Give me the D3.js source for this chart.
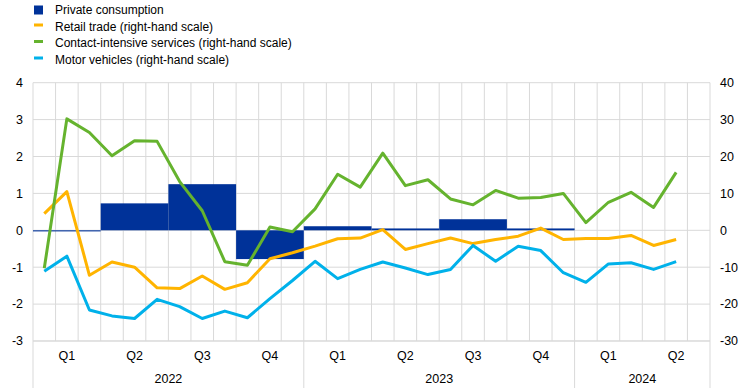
<!DOCTYPE html>
<html lang="en">
<head>
<meta charset="UTF-8">
<title>Consumption chart</title>
<script src="https://cdnjs.cloudflare.com/ajax/libs/d3/7.8.5/d3.min.js"></script>
<style>
	body { margin: 0; background: #fff; }
	text { font-family: Arial, "Liberation Sans", sans-serif; fill: #000; }
</style>
</head>
<body>
<svg id="chart" width="742" height="388"></svg>
<script>
// Jan 2022 .. Jun 2024, one slot per month
var months = d3.timeMonth.range(new Date(2022, 0, 1), new Date(2024, 6, 1));
var quarterLabels = ["Q1", "Q2", "Q3", "Q4", "Q1", "Q2", "Q3", "Q4", "Q1", "Q2"];
var years = ["2022", "2023", "2024"];
var yearQuarters = [4, 4, 2];

// private consumption, quarter-on-quarter % (left-hand scale)
var privateConsumption = [-0.03, 0.73, 1.25, -0.78, 0.11, 0.05, 0.3, 0.05];

// right-hand scale, monthly, Jan 2022 .. May 2024
var retailTrade = [4.5, 10.5, -12.2, -8.6, -10.0, -15.6, -15.8, -12.4, -16.0, -14.2,
	-7.7, -6.1, -4.3, -2.3, -2.1, 0.2, -5.2, -3.6, -2.1, -3.6,
	-2.5, -1.6, 0.6, -2.5, -2.2, -2.2, -1.4, -4.1, -2.5];
var contactServices = [-10.3, 30.2, 26.5, 20.2, 24.3, 24.1, 13.2, 5.3, -8.5, -9.5,
	0.9, -0.4, 5.8, 15.2, 11.7, 20.9, 12.1, 13.7, 8.5, 6.9,
	10.8, 8.7, 8.9, 10.0, 2.1, 7.6, 10.3, 6.2, 15.7];
var motorVehicles = [-11.1, -7.0, -21.6, -23.2, -23.9, -18.7, -20.7, -23.9, -21.9, -23.7,
	-18.5, -13.6, -8.4, -13.1, -10.6, -8.6, -10.2, -12.0, -10.6, -4.1,
	-8.4, -4.3, -5.5, -11.5, -14.1, -9.1, -8.8, -10.6, -8.5];

var leftTicks = [-3, -2, -1, 0, 1, 2, 3, 4];
var rightTicks = [-30, -20, -10, 0, 10, 20, 30, 40];

var series = [
	{ name: "Retail trade (right-hand scale)", values: retailTrade, color: "#ffb400" },
	{ name: "Contact-intensive services (right-hand scale)", values: contactServices, color: "#65b32e" },
	{ name: "Motor vehicles (right-hand scale)", values: motorVehicles, color: "#00b1ea" }
];
var barColor = "#003299";

var svg = d3.select("#chart");
var plotLeft = 33, plotRight = 710, plotTop = 82.7, plotBottom = 341;

var x = d3.scaleLinear().domain([0, months.length]).range([plotLeft, plotRight]);
var yL = d3.scaleLinear().domain([-3, 4]).range([plotBottom, plotTop]);
var yR = d3.scaleLinear().domain([-30, 40]).range([plotBottom, plotTop]);

// grid
var grid = svg.append("g");
grid.selectAll("line.h")
	.data(leftTicks)
	.enter()
	.append("line")
	.attr("class", "h")
	.attr("x1", plotLeft).attr("x2", plotRight)
	.attr("y1", d => yL(d)).attr("y2", d => yL(d))
	.attr("stroke", "#d9d9d9").attr("stroke-width", 1);
grid.selectAll("line.v")
	.data(d3.range(months.length + 1))
	.enter()
	.append("line")
	.attr("class", "v")
	.attr("x1", d => x(d)).attr("x2", d => x(d))
	.attr("y1", plotTop).attr("y2", plotBottom)
	.attr("stroke", "#d9d9d9").attr("stroke-width", 1);

// bars, one per quarter
svg.append("g")
	.selectAll("rect")
	.data(privateConsumption)
	.enter()
	.append("rect")
	.attr("x", (d, i) => x(i * 3))
	.attr("width", (d, i) => x(i * 3 + 3) - x(i * 3))
	.attr("y", d => yL(Math.max(0, d)))
	.attr("height", d => Math.max(1, Math.abs(yL(d) - yL(0))))
	.attr("fill", barColor);

// lines
var lineMaker = d3.line()
	.x((d, i) => x(i + 0.5))
	.y(d => yR(d));

svg.append("g")
	.selectAll("path")
	.data(series)
	.enter()
	.append("path")
	.attr("fill", "none")
	.attr("stroke", d => d.color)
	.attr("stroke-width", 3)
	.attr("stroke-linejoin", "round")
	.attr("d", d => lineMaker(d.values));

// axis labels
var axisFont = "12.5px";
svg.append("g")
	.selectAll("text")
	.data(leftTicks)
	.enter()
	.append("text")
	.attr("x", 23)
	.attr("y", d => yL(d))
	.attr("dy", "0.35em")
	.attr("text-anchor", "end")
	.style("font-size", axisFont)
	.text(d => d);

svg.append("g")
	.selectAll("text")
	.data(rightTicks)
	.enter()
	.append("text")
	.attr("x", 720)
	.attr("y", d => yR(d))
	.attr("dy", "0.35em")
	.attr("text-anchor", "start")
	.style("font-size", axisFont)
	.text(d => d);

// x axis: quarters and years
svg.append("line")
	.attr("x1", plotLeft).attr("x2", plotRight)
	.attr("y1", plotBottom).attr("y2", plotBottom)
	.attr("stroke", "#d9d9d9");

svg.append("g")
	.selectAll("text")
	.data(quarterLabels)
	.enter()
	.append("text")
	.attr("x", (d, i) => x(i * 3 + 1.5))
	.attr("y", 356)
	.attr("dy", "0.35em")
	.attr("text-anchor", "middle")
	.style("font-size", axisFont)
	.text(d => d);

var yearStarts = [0];
yearQuarters.forEach((q, i) => yearStarts.push(yearStarts[i] + q * 3));

svg.append("g")
	.selectAll("line")
	.data(yearStarts)
	.enter()
	.append("line")
	.attr("x1", d => x(d)).attr("x2", d => x(d))
	.attr("y1", plotBottom).attr("y2", 388)
	.attr("stroke", "#d9d9d9");

svg.append("g")
	.selectAll("text")
	.data(years)
	.enter()
	.append("text")
	.attr("x", (d, i) => x((yearStarts[i] + yearStarts[i + 1]) / 2))
	.attr("y", 379)
	.attr("dy", "0.35em")
	.attr("text-anchor", "middle")
	.style("font-size", axisFont)
	.text(d => d);

// legend
var legendItems = [{ name: "Private consumption", color: barColor, bar: true }]
	.concat(series.map(s => ({ name: s.name, color: s.color, bar: false })));

var legend = svg.append("g")
	.selectAll("g")
	.data(legendItems)
	.enter()
	.append("g")
	.attr("transform", (d, i) => "translate(34," + (10 + i * 16.5) + ")");

legend.append("rect")
	.attr("x", 0)
	.attr("y", d => d.bar ? -4.5 : -3)
	.attr("width", 9)
	.attr("height", d => d.bar ? 9 : 3)
	.attr("fill", d => d.color);

legend.append("text")
	.attr("x", 21)
	.attr("y", 0)
	.attr("dy", "0.35em")
	.style("font-size", "12px")
	.text(d => d.name);
</script>
</body>
</html>
